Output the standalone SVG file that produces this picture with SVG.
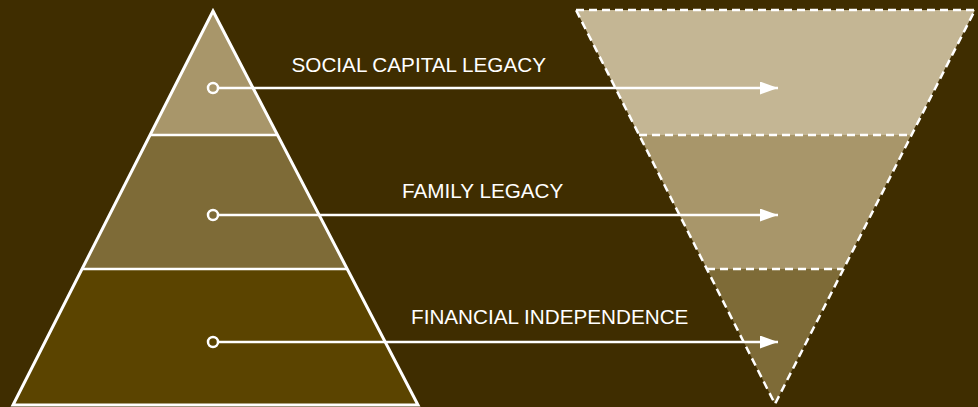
<svg xmlns="http://www.w3.org/2000/svg" width="978" height="407" viewBox="0 0 978 407">
  <defs>
    <style>
      .solid { stroke: #ffffff; stroke-width: 3; stroke-linejoin: miter; }
      .div { stroke: #ffffff; stroke-width: 2.5; }
      .dash { stroke: #ffffff; stroke-width: 2.5; stroke-dasharray: 8 5; fill: none; }
      .conn { stroke: #ffffff; stroke-width: 2.5; fill: none; }
      .dot { stroke: #ffffff; stroke-width: 2.5; }
      .label { font-family: "Liberation Sans", Arial, sans-serif; font-size: 20.7px; fill: #ffffff; }
    </style>
    <marker id="arrow" markerWidth="18" markerHeight="13" refX="18" refY="6.5" orient="auto" markerUnits="userSpaceOnUse">
      <path d="M0,0 L18,6.5 L0,13 Z" fill="#ffffff"/>
    </marker>
  </defs>
  <rect x="0" y="0" width="978" height="407" fill="#3f2d00"/>

  <g id="pyramid">
    <g id="pyr-top">
      <polygon points="213,11 150,135 277,135" fill="#a8966a"/>
    </g>
    <g id="pyr-middle">
      <polygon points="150,135 277,135 347,269 83,269" fill="#7e6b37"/>
    </g>
    <g id="pyr-bottom">
      <polygon points="83,269 347,269 418,405 13,405" fill="#5b4400"/>
    </g>
    <line class="div" x1="150" y1="135" x2="277" y2="135"/>
    <line class="div" x1="83" y1="269" x2="347" y2="269"/>
    <polygon class="solid" points="213,11 418,405 13,405" fill="none"/>
  </g>

  <g id="funnel">
    <g id="fun-top">
      <polygon points="576,10 975,10 911,135 639,135" fill="#c4b694"/>
    </g>
    <g id="fun-middle">
      <polygon points="639,135 911,135 843,269 707,269" fill="#a8966a"/>
    </g>
    <g id="fun-bottom">
      <polygon points="707,269 843,269 775,404" fill="#7e6b37"/>
    </g>
    <line class="dash" x1="639" y1="135" x2="911" y2="135"/>
    <line class="dash" x1="707" y1="269" x2="843" y2="269"/>
    <polygon class="dash" points="576,10 975,10 775,404"/>
  </g>

  <g id="connectors">
    <line class="conn" x1="218" y1="88" x2="778" y2="88" marker-end="url(#arrow)"/>
    <line class="conn" x1="218" y1="215" x2="778" y2="215" marker-end="url(#arrow)"/>
    <line class="conn" x1="218" y1="342" x2="778" y2="342" marker-end="url(#arrow)"/>
    <circle class="dot" cx="213" cy="88" r="5" fill="#a8966a"/>
    <circle class="dot" cx="213" cy="215" r="5" fill="#7e6b37"/>
    <circle class="dot" cx="213" cy="342" r="5" fill="#5b4400"/>
  </g>

  <g id="labels">
    <text class="label" x="291.5" y="71.5">SOCIAL CAPITAL LEGACY</text>
    <text class="label" x="402" y="198">FAMILY LEGACY</text>
    <text class="label" x="411" y="324">FINANCIAL INDEPENDENCE</text>
  </g>
</svg>
